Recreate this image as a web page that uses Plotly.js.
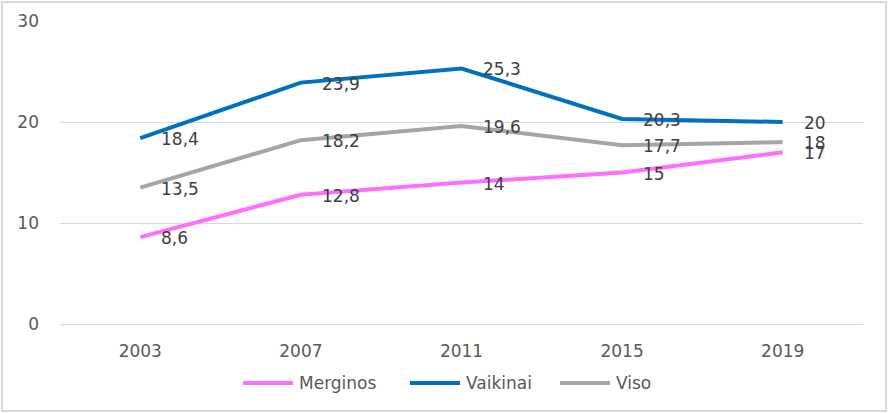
<!DOCTYPE html>
<html>
<head>
<meta charset="utf-8">
<script src="https://cdn.plot.ly/plotly-3.0.1.min.js"></script>
<style>
html,body{margin:0;padding:0;background:#fff;}
#chart{width:890px;height:413px;}
</style>
</head>
<body>
<div id="chart"></div>
<script>
const years = ['2003', '2007', '2011', '2015', '2019'];
const merginos = [8.6, 12.8, 14, 15, 17];
const vaikinai = [18.4, 23.9, 25.3, 20.3, 20];
const viso = [13.5, 18.2, 19.6, 17.7, 18];
const yTicks = [0, 10, 20, 30];
const seriesNames = ['Merginos', 'Vaikinai', 'Viso'];
const seriesColors = ['#FF6EFF', '#0070C0', '#A5A5A5'];

const fmt = v => String(v).replace('.', ',');
const FONT = 'DejaVu Sans, Verdana, sans-serif';
const FS = 17;

const allSeries = [merginos, vaikinai, viso];

const data = allSeries.map((vals, i) => ({
  type: 'scatter',
  mode: 'lines',
  name: seriesNames[i],
  x: years,
  y: vals,
  line: {color: seriesColors[i], width: 4},
  hoverinfo: 'none'
}));

// data labels, placed right of each point
const annotations = [];
allSeries.forEach(vals => {
  vals.forEach((v, j) => {
    annotations.push({
      x: j, y: v, xref: 'x', yref: 'y',
      text: fmt(v), showarrow: false,
      xanchor: 'left', yanchor: 'middle',
      xshift: 19, yshift: -1,
      font: {family: FONT, size: FS, color: '#404040'}
    });
  });
});

// legend (drawn in paper space at the bottom)
const PL = 60, PW = 803, PT = 21, PH = 303;
const px = x => (x - PL) / PW;
const py = y => 1 - (y - PT) / PH;
const legendStarts = [243, 410, 560];
const shapes = [{
  type: 'rect',
  xref: 'paper', yref: 'paper',
  x0: px(2), x1: px(886),
  y0: py(411), y1: py(2),
  line: {color: '#d9d9d9', width: 2},
  fillcolor: 'rgba(0,0,0,0)',
  layer: 'below'
}];
seriesNames.forEach((name, i) => {
  const s = legendStarts[i];
  shapes.push({
    type: 'line', xref: 'paper', yref: 'paper',
    x0: px(s), x1: px(s + 50), y0: py(383), y1: py(383),
    line: {color: seriesColors[i], width: 4}
  });
  annotations.push({
    xref: 'paper', yref: 'paper', x: px(s + 54), y: py(383),
    xanchor: 'left', yanchor: 'middle', showarrow: false,
    text: name,
    font: {family: FONT, size: FS, color: '#595959'}
  });
});

const layout = {
  width: 890,
  height: 413,
  margin: {l: PL, r: 890 - PL - PW, t: PT, b: 413 - PT - PH},
  paper_bgcolor: '#fff',
  plot_bgcolor: '#fff',
  showlegend: false,
  separators: ',.',
  font: {family: FONT, size: FS, color: '#595959'},
  xaxis: {
    type: 'category',
    range: [-0.5, 4.5],
    showgrid: false,
    showline: true,
    linecolor: '#d9d9d9',
    linewidth: 1,
    ticks: '',
    ticklabelstandoff: 12,
    tickfont: {family: FONT, size: FS, color: '#595959'},
    fixedrange: true
  },
  yaxis: {
    range: [0, 30],
    tickvals: yTicks,
    ticktext: yTicks.map(String),
    showgrid: true,
    gridcolor: '#d9d9d9',
    gridwidth: 1,
    zeroline: false,
    showline: false,
    ticks: '',
    ticklabelstandoff: 20,
    tickfont: {family: FONT, size: FS, color: '#595959'},
    fixedrange: true
  },
  annotations: annotations,
  shapes: shapes
};

Plotly.newPlot('chart', data, layout, {displayModeBar: false, staticPlot: true});
</script>
</body>
</html>
